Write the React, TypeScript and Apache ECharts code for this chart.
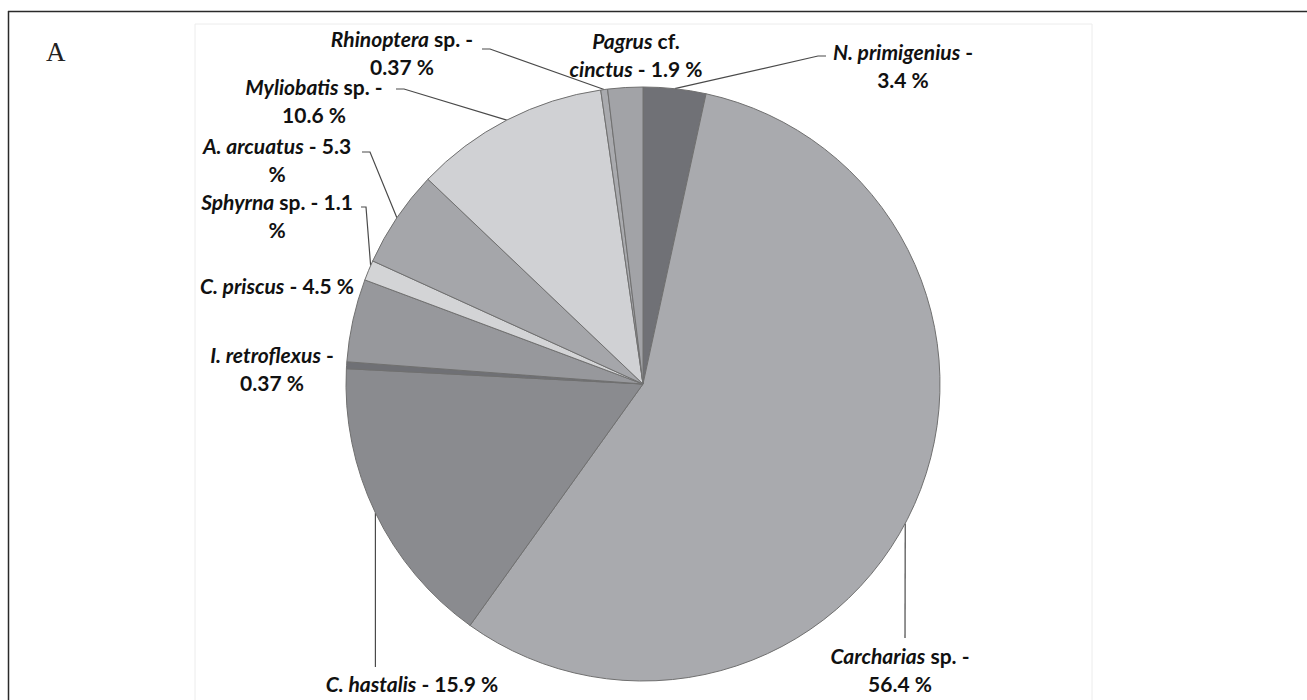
import React, { useEffect, useRef } from "react";
import * as echarts from "echarts";

// ---- data ----
const SPECIES = [
  "N. primigenius",
  "Carcharias sp.",
  "C. hastalis",
  "I. retroflexus",
  "C. priscus",
  "Sphyrna sp.",
  "A. arcuatus",
  "Myliobatis sp.",
  "Rhinoptera sp.",
  "Pagrus cf. cinctus",
];
const VALUES = [3.4, 56.4, 15.9, 0.37, 4.5, 1.1, 5.3, 10.6, 0.37, 1.9];
const COLORS = [
  "#707176",
  "#a9aaae",
  "#8a8b8f",
  "#6f7075",
  "#97989c",
  "#d3d4d6",
  "#a5a6aa",
  "#d0d1d4",
  "#a9aaae",
  "#a2a3a7",
];
const LABEL_TEMPLATES = [
  "{i|N. primigenius}{b| -}\n{b|#v %}",
  "{i|Carcharias}{b| sp. -}\n{b|#v %}",
  "{i|C. hastalis}{b| - #v %}",
  "{i|I. retroflexus}{b| -}\n{b|#v %}",
  "{i|C. priscus}{b| - #v %}",
  "{i|Sphyrna}{b| sp. - #v}\n{b|%}",
  "{i|A. arcuatus}{b| - #v}\n{b|%}",
  "{i|Myliobatis}{b| sp. -}\n{b|#v %}",
  "{i|Rhinoptera}{b| sp. -}\n{b|#v %}",
  "{i|Pagrus}{b| cf.}\n{i|cinctus}{b| - #v %}",
];

// ---- layout (label placement, not data) ----
const CX = 643;
const CY = 384;
const R = 297;
const LABEL_POS: number[][] = [
  [903, 65],
  [900, 669],
  [412, 683],
  [272, 368],
  [277, 285],
  [277, 215],
  [277, 159],
  [314, 100],
  [402, 52],
  [636, 54],
];
// leader: fromAngle (deg clockwise from top) or null => slice mid-angle
const LEADERS: any[] = [
  { fromAngle: null, elbow: [818, 56], to: [826, 56] },
  { fromAngle: 118, elbow: [905, 638], to: [905, 638] },
  { fromAngle: null, elbow: null, to: [null, 667] },
  null,
  null,
  { fromAngle: 293.5, elbow: [366, 207], to: [361, 207] },
  { fromAngle: null, elbow: [370, 152], to: [362, 152] },
  { fromAngle: null, elbow: [404, 89], to: [396, 89] },
  { fromAngle: null, elbow: [490, 49], to: [482, 49] },
  null,
];

function edgePoint(deg: number) {
  const a = (deg * Math.PI) / 180;
  return [CX + R * Math.sin(a), CY - R * Math.cos(a)];
}

export default function App() {
  const ref = useRef<HTMLDivElement>(null);
  useEffect(() => {
    document.body.style.margin = "0";
    const chart = echarts.init(ref.current!, null, { renderer: "svg" });
    const total = VALUES.reduce((s, v) => s + v, 0);
    const midAngles: number[] = [];
    let cum = 0;
    VALUES.forEach((v) => {
      midAngles.push(((cum + v / 2) / total) * 360);
      cum += v;
    });

    const font = "Lato, 'Open Sans', sans-serif";
    const fs = 21;
    const lh = 28;

    chart.setOption({
      animation: false,
      backgroundColor: "#ffffff",
      graphic: [
        {
          type: "rect",
          silent: true,
          shape: { x: 195, y: 24, width: 897, height: 690 },
          style: { fill: "none", stroke: "#ececec", lineWidth: 1 },
        },
        {
          type: "line",
          silent: true,
          shape: { x1: 8.5, y1: 11, x2: 8.5, y2: 700 },
          style: { stroke: "#2a2a2a", lineWidth: 1.5 },
        },
        {
          type: "line",
          silent: true,
          shape: { x1: 8, y1: 11.5, x2: 1307, y2: 11.5 },
          style: { stroke: "#2a2a2a", lineWidth: 1.5 },
        },
        {
          type: "text",
          left: 46,
          top: 38,
          style: {
            text: "A",
            fontFamily: "'Liberation Serif', 'DejaVu Serif', serif",
            fontSize: 27,
            fill: "#222",
          },
        },
      ],
      series: [
        {
          type: "pie",
          center: [CX, CY],
          radius: R,
          startAngle: 90,
          clockwise: true,
          avoidLabelOverlap: false,
          minShowLabelAngle: 0,
          itemStyle: { borderColor: "#707070", borderWidth: 1 },
          label: {
            show: true,
            position: "outside",
            formatter: (p: any) =>
              LABEL_TEMPLATES[p.dataIndex].replace("#v", String(p.value)),
            rich: {
              i: {
                fontFamily: font,
                fontSize: fs,
                fontWeight: "bold",
                fontStyle: "italic",
                color: "#111",
                lineHeight: lh,
              },
              b: {
                fontFamily: font,
                fontSize: fs,
                fontWeight: "bold",
                color: "#111",
                lineHeight: lh,
              },
            },
          },
          labelLine: {
            show: true,
            length: 10,
            length2: 10,
            smooth: false,
            lineStyle: { color: "#4a4a4a", width: 1.2 },
          },
          labelLayout: (params: any) => {
            const i = params.dataIndex;
            const pos = LABEL_POS[i];
            const out: any = {
              x: pos[0],
              y: pos[1],
              align: "center",
              verticalAlign: "middle",
            };
            const L = LEADERS[i];
            if (L) {
              const ang = L.fromAngle == null ? midAngles[i] : L.fromAngle;
              const s = edgePoint(ang);
              const to = [L.to[0] == null ? s[0] : L.to[0], L.to[1]];
              const el = L.elbow ? L.elbow : to;
              out.labelLinePoints = [s, el, to];
            }
            return out;
          },
          data: VALUES.map((v, i) => ({
            name: SPECIES[i],
            value: v,
            itemStyle: { color: COLORS[i] },
            labelLine: { show: LEADERS[i] != null },
          })),
        },
      ],
    });
    return () => chart.dispose();
  }, []);
  return <div ref={ref} style={{ width: 1307, height: 700 }} />;
}
